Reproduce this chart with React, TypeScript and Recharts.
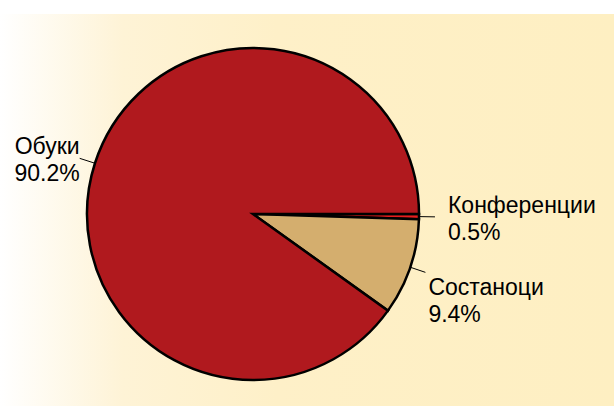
import React from "react";
import { PieChart, Pie, Cell } from "recharts";

const categories = ["Конференции", "Состаноци", "Обуки"];
const values = [0.5, 9.4, 90.2];
const valueLabels = ["0.5%", "9.4%", "90.2%"];
const colors = ["#E61E1E", "#D4AE6E", "#B0191E"];

const data = categories.map((name, i) => ({ name, value: values[i], label: valueLabels[i] }));

const RAD = Math.PI / 180;
const labelShift: Record<string, { dx: number; dy: number }> = {
  "Конференции": { dx: 13, dy: 0 },
  "Состаноци": { dx: 3, dy: 27 },
  "Обуки": { dx: 0, dy: 0 },
};

const renderLabel = (props: any) => {
  const { cx, cy, midAngle, outerRadius, index } = props;
  const d = data[index];
  const cos = Math.cos(-midAngle * RAD);
  const sin = Math.sin(-midAngle * RAD);
  const sx = cx + outerRadius * cos;
  const sy = cy + outerRadius * sin;
  const ex = cx + (outerRadius + 16) * cos;
  const ey = cy + (outerRadius + 16) * sin;
  const right = cos >= 0;
  const shift = labelShift[d.name] || { dx: 0, dy: 0 };
  const tx = right ? ex + shift.dx : ex - shift.dx;
  const ty = ey + shift.dy;
  return (
    <g>
      <line x1={sx} y1={sy} x2={ex} y2={ey} stroke="#000" strokeWidth={1} />
      <text
        x={tx}
        y={ty}
        textAnchor={right ? "start" : "end"}
        fontFamily="'Liberation Sans', Arial, sans-serif"
        fontSize={23}
        fill="#000"
      >
        <tspan x={tx} dy={-4}>{d.name}</tspan>
        <tspan x={tx} dy={27}>{d.label}</tspan>
      </text>
    </g>
  );
};

export default function App() {
  return (
    <div style={{ position: "absolute", left: 0, top: 0, width: 614, height: 406, background: "#fff" }}>
      <div
        style={{
          position: "absolute",
          left: 0,
          top: 14,
          width: 614,
          height: 392,
          background: "linear-gradient(to right, #FFFFFF 0%, #FEF3D6 20%, #FEF0C8 45%, #FEEFC2 100%)",
        }}
      />
      <div style={{ position: "absolute", left: 0, top: 0 }}>
        <PieChart width={614} height={406} margin={{ top: 0, right: 0, bottom: 0, left: 0 }}>
          <Pie
            data={data}
            dataKey="value"
            nameKey="name"
            cx={253}
            cy={214}
            outerRadius={166}
            startAngle={0}
            endAngle={-360}
            stroke="#000"
            strokeWidth={2.5}
            label={renderLabel}
            labelLine={false}
            isAnimationActive={false}
          >
            {data.map((d, i) => (
              <Cell key={d.name} fill={colors[i]} />
            ))}
          </Pie>
        </PieChart>
      </div>
    </div>
  );
}
